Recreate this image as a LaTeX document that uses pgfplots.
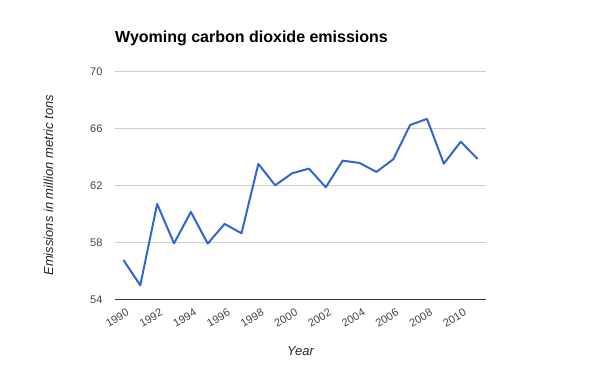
\documentclass[border=0pt]{standalone}
\usepackage{fontspec}
\setmainfont{Liberation Sans}
\usepackage{pgfplots}
\pgfplotsset{compat=1.18}
\definecolor{gline}{HTML}{3366CC}
\definecolor{gridc}{HTML}{CCCCCC}
\definecolor{tickc}{HTML}{444444}
\begin{document}
\begin{tikzpicture}[x=1pt,y=1pt]
\path[use as bounding box] (0,0) rectangle (600,371);
\begin{axis}[
  at={(115pt,71.7pt)}, anchor=south west,
  scale only axis, width=371pt, height=228pt,
  xmin=1989.5, xmax=2011.5, ymin=54, ymax=70,
  ytick={54,58,62,66,70},
  xtick={1990,1992,...,2010},
  axis line style={draw=none},
  major tick length=0pt,
  ymajorgrids, grid style={color=gridc, line width=0.9pt},
  /pgf/number format/assume math mode=true,
  /pgf/number format/1000 sep={},
  ticklabel style={font=\fontsize{11}{13}\selectfont, text=tickc},
  yticklabel style={xshift=-9pt},
  xticklabel style={yshift=-12pt, xshift=5pt, rotate=30, anchor=east, inner sep=0.5pt},
  title={Wyoming carbon dioxide emissions},
  title style={at={(axis description cs:0,1)}, anchor=base west, yshift=23pt, inner sep=0pt,
    font=\fontsize{16}{19}\bfseries\selectfont},
  xlabel={Year},
  xlabel style={at={(axis description cs:0.5,0)}, anchor=base, yshift=-56pt, inner sep=0pt,
    font=\fontsize{13}{15}\itshape\selectfont, text=black!85},
  ylabel={Emissions in million metric tons},
  ylabel style={at={(axis description cs:-0.179,0.5)}, anchor=center,
    font=\fontsize{13}{15}\itshape\selectfont, text=black!85},
  clip=false,
]
\draw[color=black!80, line width=1pt] (rel axis cs:0,0) -- (rel axis cs:1,0);
\addplot[color=gline, line width=2pt, mark=none, line join=round] coordinates {
(1990,56.76) (1991,54.98) (1992,60.69) (1993,57.93) (1994,60.13) (1995,57.91)
(1996,59.29) (1997,58.63) (1998,63.50) (1999,62.00) (2000,62.84) (2001,63.17)
(2002,61.86) (2003,63.73) (2004,63.57) (2005,62.94) (2006,63.82) (2007,66.23)
(2008,66.66) (2009,63.52) (2010,65.06) (2011,63.85)
};
\end{axis}
\end{tikzpicture}
\end{document}
